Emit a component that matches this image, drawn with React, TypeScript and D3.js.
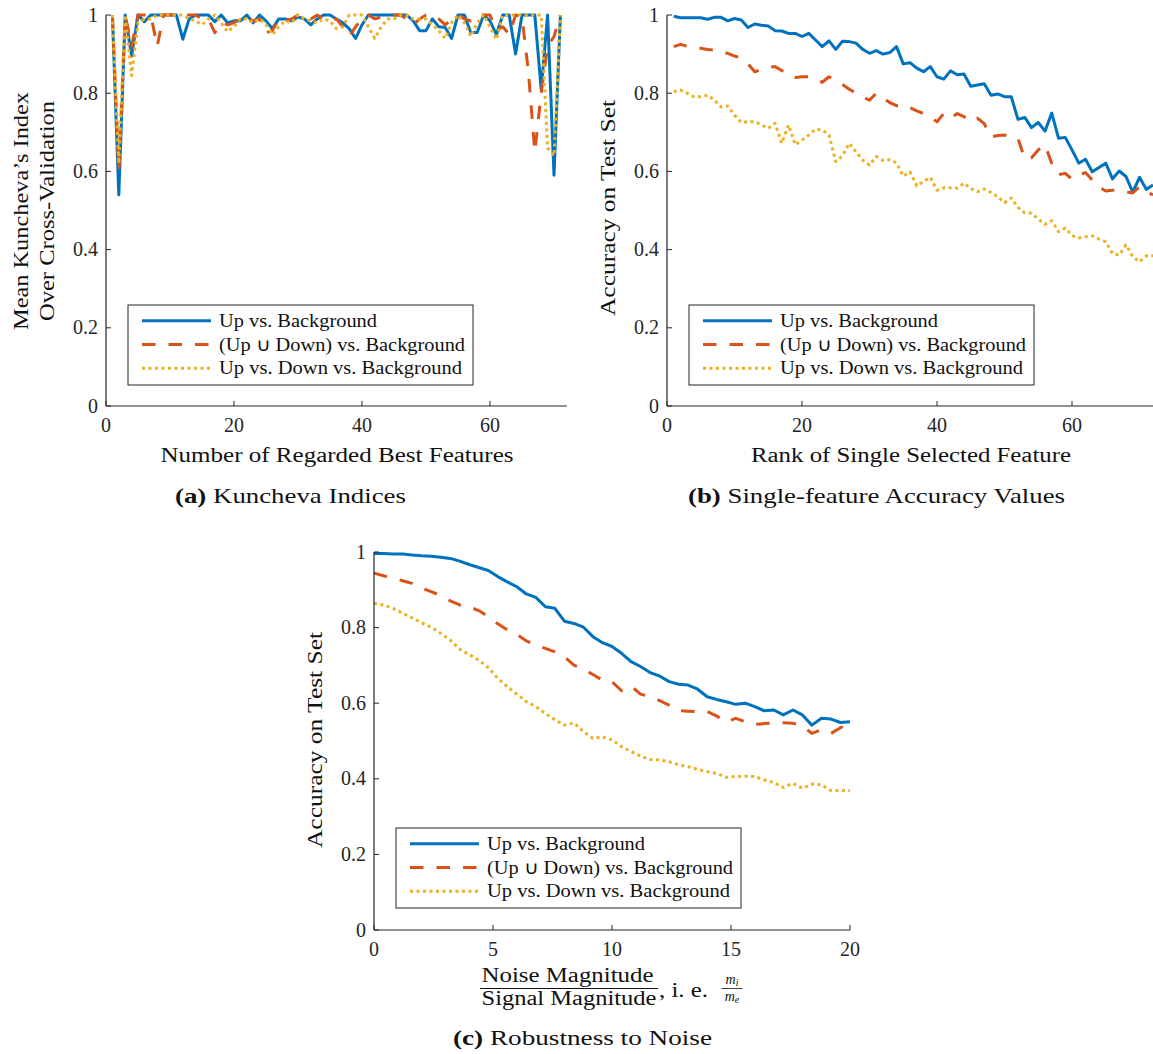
import React from "react";
import * as d3 from "d3";

const BLUE = "#0072BD";
const ORANGE = "#D95319";
const YELLOW = "#EDB120";
const AXIS = "#262626";
const FONT = "'Liberation Serif', 'Times New Roman', serif";

const legendLabels = [
  "Up vs. Background",
  "(Up \u222A Down) vs. Background",
  "Up vs. Down vs. Background",
];

// (a) mean Kuncheva index, for 1..71 regarded best features
const kunchevaUp = [
  1, 0.54, 1, 0.895, 1, 0.983, 1, 1, 1, 1,
  1, 0.938, 0.99, 1, 1, 1, 0.983, 1, 0.98, 0.985,
  0.985, 1, 0.98, 1, 0.985, 0.965, 0.99, 0.99, 0.985, 0.995,
  0.99, 0.975, 0.99, 1, 1, 0.99, 0.98, 0.965, 0.94, 0.975,
  1, 1, 1, 1, 1, 1, 1, 0.985, 0.96, 0.96,
  0.99, 0.97, 0.968, 0.94, 1, 1, 0.955, 0.955, 1, 0.985,
  0.95, 1, 1, 0.9, 1, 1, 1, 0.81, 1, 0.59,
  1,
];
const kunchevaUnion = [
  1, 0.6, 1, 0.92, 1, 1, 1, 0.92, 1, 1,
  1, 1, 1, 1, 0.99, 0.99, 0.955, 0.98, 0.975, 0.98,
  0.99, 0.99, 0.985, 0.99, 0.955, 0.96, 0.99, 0.985, 0.99, 1,
  0.995, 0.99, 1, 0.99, 0.985, 0.99, 0.97, 0.945, 0.97, 0.99,
  1, 0.99, 0.995, 1, 1, 1, 0.99, 0.975, 0.99, 1,
  1, 0.99, 0.975, 0.99, 1, 0.99, 0.985, 1, 1, 1,
  0.96, 0.97, 0.95, 1, 0.995, 0.855, 0.65, 0.8, 0.92, 0.945,
  1,
];
const kunchevaThree = [
  1, 0.62, 1, 0.845, 0.98, 0.99, 0.99, 1, 1, 1,
  1, 1, 0.99, 0.985, 0.975, 0.99, 1, 0.98, 0.957, 0.97,
  0.99, 0.99, 0.98, 0.99, 0.975, 0.95, 0.97, 0.985, 0.98, 1,
  0.99, 0.985, 0.98, 0.99, 0.985, 0.965, 0.97, 1, 1, 1,
  0.97, 0.94, 0.97, 0.99, 0.99, 1, 1, 0.99, 0.99, 0.99,
  0.975, 0.96, 0.94, 0.98, 1, 0.98, 0.945, 0.98, 1, 0.97,
  0.937, 1, 1, 1, 1, 1, 1, 1, 0.66, 0.64,
  1,
];

// (b) single-feature accuracy, rank 1..72
const rankUp = [
  0.997, 0.993, 0.993, 0.993, 0.993, 0.989, 0.994, 0.994, 0.985, 0.991,
  0.987, 0.968, 0.977, 0.974, 0.972, 0.96, 0.959, 0.953, 0.953, 0.945,
  0.953, 0.936, 0.919, 0.934, 0.912, 0.933, 0.932, 0.928, 0.912, 0.902,
  0.909, 0.9, 0.904, 0.919, 0.875, 0.878, 0.864, 0.855, 0.868, 0.842,
  0.836, 0.857, 0.847, 0.849, 0.818, 0.821, 0.824, 0.795, 0.798, 0.791,
  0.791, 0.733, 0.738, 0.712, 0.725, 0.703, 0.749, 0.685, 0.687, 0.655,
  0.621, 0.631, 0.599, 0.61, 0.621, 0.581, 0.601, 0.587, 0.547, 0.585,
  0.554, 0.565,
];
const rankUnion = [
  0.919, 0.925, 0.92, 0.917, 0.915, 0.912, 0.91, 0.905, 0.902, 0.895,
  0.89, 0.875, 0.855, 0.86, 0.866, 0.868, 0.858, 0.845, 0.84, 0.842,
  0.842, 0.835, 0.828, 0.842, 0.832, 0.822, 0.81, 0.8, 0.79, 0.782,
  0.8, 0.788, 0.776, 0.768, 0.77, 0.763, 0.755, 0.748, 0.738, 0.727,
  0.748, 0.736, 0.748, 0.74, 0.728, 0.736, 0.722, 0.688, 0.692, 0.693,
  0.69, 0.684, 0.632, 0.635, 0.655, 0.668, 0.62, 0.592, 0.595, 0.58,
  0.59, 0.597, 0.578, 0.56, 0.55, 0.552, 0.55, 0.548, 0.545, 0.56,
  0.548, 0.54,
];
const rankThree = [
  0.804, 0.808, 0.8, 0.791, 0.791, 0.795, 0.783, 0.765, 0.767, 0.744,
  0.725, 0.727, 0.727, 0.719, 0.71, 0.723, 0.672, 0.719, 0.668, 0.68,
  0.693, 0.708, 0.706, 0.693, 0.625, 0.64, 0.672, 0.65, 0.629, 0.616,
  0.638, 0.628, 0.63, 0.622, 0.588, 0.599, 0.563, 0.574, 0.585, 0.552,
  0.558, 0.558, 0.557, 0.57, 0.556, 0.548, 0.555, 0.546, 0.535, 0.52,
  0.532, 0.508, 0.494, 0.493, 0.478, 0.465, 0.474, 0.446, 0.455, 0.436,
  0.43, 0.433, 0.435, 0.427, 0.42, 0.39, 0.386, 0.412, 0.382, 0.369,
  0.384, 0.384,
];

// (c) accuracy vs. noise ratio, 0..20 in steps of 0.4
const noiseStep = 0.4;
const noiseUp = [
  0.996, 0.996, 0.995, 0.995, 0.992, 0.99, 0.989, 0.986, 0.983, 0.976,
  0.967, 0.959, 0.951, 0.935, 0.921, 0.908, 0.889, 0.88, 0.855, 0.851,
  0.817, 0.811, 0.801, 0.776, 0.76, 0.75, 0.732, 0.71, 0.697, 0.681,
  0.672, 0.657, 0.65, 0.648, 0.637, 0.617, 0.61, 0.604, 0.597, 0.6,
  0.591, 0.58, 0.582, 0.569, 0.582, 0.569, 0.542, 0.56, 0.558, 0.549,
  0.551,
];
const noiseUnion = [
  0.944, 0.937, 0.931, 0.924, 0.917, 0.905, 0.895, 0.885, 0.871, 0.86,
  0.855, 0.845, 0.829, 0.81, 0.794, 0.782, 0.765, 0.754, 0.745, 0.736,
  0.723, 0.701, 0.69, 0.676, 0.661, 0.657, 0.633, 0.645, 0.624, 0.617,
  0.607, 0.595, 0.58, 0.579, 0.578, 0.578, 0.566, 0.55, 0.56, 0.551,
  0.544, 0.546, 0.548, 0.548, 0.547, 0.54, 0.52, 0.53, 0.52, 0.535,
  0.55,
];
const noiseThree = [
  0.864, 0.86, 0.851, 0.838, 0.826, 0.813, 0.801, 0.785, 0.767, 0.743,
  0.729, 0.714, 0.694, 0.666, 0.644, 0.624, 0.604, 0.591, 0.573, 0.556,
  0.542, 0.548, 0.525, 0.507, 0.511, 0.503, 0.485, 0.472, 0.46, 0.451,
  0.45, 0.445, 0.437, 0.432, 0.425, 0.419, 0.414, 0.404, 0.406, 0.407,
  0.406, 0.397, 0.39, 0.377, 0.388, 0.375, 0.386, 0.384, 0.369, 0.369,
  0.369,
];

const featureTicks = [0, 20, 40, 60];
const noiseTicks = [0, 5, 10, 15, 20];
const accTicks = [0, 0.2, 0.4, 0.6, 0.8, 1];

const styles = [
  { color: BLUE, dash: undefined as string | undefined },
  { color: ORANGE, dash: "13.5,13" },
  { color: YELLOW, dash: "3,3.5" },
];

function Panel(props: any) {
  const { px, py, xDomain, xTicks, xs, series, lx, ly } = props;
  const x = d3.scaleLinear().domain(xDomain).range(px);
  const y = d3.scaleLinear().domain([0, 1]).range(py);
  const line = d3.line<number>().x((_, i) => x(xs[i])).y((d) => y(d));
  const x0 = px[0], yb = py[0];
  return (
    <g>
      {series.map((vals: number[], k: number) => (
        <path key={k} d={line(vals) || ""} fill="none" stroke={styles[k].color}
          strokeWidth={3} strokeDasharray={styles[k].dash} strokeLinejoin="round" />
      ))}
      <line x1={x0} x2={x0} y1={yb} y2={py[1]} stroke={AXIS} strokeWidth={1.2} />
      <line x1={x0} x2={px[1]} y1={yb} y2={yb} stroke={AXIS} strokeWidth={1.2} />
      {accTicks.map((t) => (
        <g key={"y" + t}>
          <line x1={x0} x2={x0 + 5} y1={y(t)} y2={y(t)} stroke={AXIS} />
          <text x={x0 - 8} y={y(t) + 6.5} textAnchor="end" fontSize={20} fill={AXIS}>{String(t)}</text>
        </g>
      ))}
      {xTicks.map((t: number) => (
        <g key={"x" + t}>
          <line x1={x(t)} x2={x(t)} y1={yb} y2={yb - 5} stroke={AXIS} />
          <text x={x(t)} y={yb + 26} textAnchor="middle" fontSize={20} fill={AXIS}>{String(t)}</text>
        </g>
      ))}
      <rect x={lx} y={ly} width={345} height={80} fill="#fff" stroke={AXIS} strokeWidth={1} />
      {legendLabels.map((lab, k) => {
        const yy = ly + 15.7 + k * 23.8;
        const widths = [158, 246, 243];
        return (
          <g key={lab}>
            <line x1={lx + 14} x2={lx + 83} y1={yy} y2={yy} stroke={styles[k].color}
              strokeWidth={3} strokeDasharray={styles[k].dash} />
            <text x={lx + 91} y={yy + 6} fontSize={18} fill="#111" textLength={widths[k]}
              lengthAdjust="spacingAndGlyphs">{lab}</text>
          </g>
        );
      })}
    </g>
  );
}

export default function App() {
  const featX = kunchevaUp.map((_, i) => i + 1);
  const rankX = rankUp.map((_, i) => i + 1);
  const noiseX = noiseUp.map((_, i) => i * noiseStep);
  const txt = { fill: "#111", fontSize: 20.5 };
  return (
    <svg width={1153} height={1054} style={{ position: "absolute", left: 0, top: 0, background: "#fff" }}
      fontFamily={FONT}>
      <Panel px={[106, 566.8]} py={[406, 15]} xDomain={[0, 72]} xTicks={featureTicks} xs={featX}
        series={[kunchevaUp, kunchevaUnion, kunchevaThree]} lx={128} ly={305} />
      <Panel px={[667, 1153]} py={[406, 15]} xDomain={[0, 72]} xTicks={featureTicks} xs={rankX}
        series={[rankUp, rankUnion, rankThree]} lx={689} ly={305} />
      <Panel px={[374, 850]} py={[930, 552]} xDomain={[0, 20]} xTicks={noiseTicks} xs={noiseX}
        series={[noiseUp, noiseUnion, noiseThree]} lx={396} ly={828} />

      {/* axis labels */}
      <text transform="translate(28,211) rotate(-90)" textAnchor="middle" {...txt} textLength={238}
        lengthAdjust="spacingAndGlyphs">Mean Kuncheva’s Index</text>
      <text transform="translate(54,211) rotate(-90)" textAnchor="middle" {...txt} textLength={220}
        lengthAdjust="spacingAndGlyphs">Over Cross-Validation</text>
      <text x={337} y={462} textAnchor="middle" {...txt} textLength={353}
        lengthAdjust="spacingAndGlyphs">Number of Regarded Best Features</text>
      <text transform="translate(615,208) rotate(-90)" textAnchor="middle" {...txt} textLength={216}
        lengthAdjust="spacingAndGlyphs">Accuracy on Test Set</text>
      <text x={911} y={462} textAnchor="middle" {...txt} textLength={320}
        lengthAdjust="spacingAndGlyphs">Rank of Single Selected Feature</text>
      <text transform="translate(322,740) rotate(-90)" textAnchor="middle" {...txt} textLength={216}
        lengthAdjust="spacingAndGlyphs">Accuracy on Test Set</text>

      {/* fraction label of (c) */}
      <text x={567.5} y={982} textAnchor="middle" {...txt} textLength={172}
        lengthAdjust="spacingAndGlyphs">Noise Magnitude</text>
      <line x1={480} x2={658} y1={988.5} y2={988.5} stroke="#111" strokeWidth={1} />
      <text x={569} y={1005} textAnchor="middle" {...txt} textLength={175}
        lengthAdjust="spacingAndGlyphs">Signal Magnitude</text>
      <text x={659} y={997} {...txt} textLength={49} lengthAdjust="spacingAndGlyphs">, i. e.</text>
      <line x1={721.5} x2={742.5} y1={988.5} y2={988.5} stroke="#111" strokeWidth={0.8} />
      <text x={732} y={984} textAnchor="middle" fill="#111" fontSize={14} fontStyle="italic">
        m<tspan fontSize={10} dy={2}>i</tspan>
      </text>
      <text x={732} y={1001} textAnchor="middle" fill="#111" fontSize={14} fontStyle="italic">
        m<tspan fontSize={10} dy={2}>e</tspan>
      </text>

      {/* captions */}
      <text x={175} y={503} fontSize={21} fill="#111" textLength={231} lengthAdjust="spacingAndGlyphs">
        <tspan fontWeight="bold">(a)</tspan> Kuncheva Indices
      </text>
      <text x={688} y={503} fontSize={21} fill="#111" textLength={377} lengthAdjust="spacingAndGlyphs">
        <tspan fontWeight="bold">(b)</tspan> Single-feature Accuracy Values
      </text>
      <text x={453} y={1045} fontSize={21} fill="#111" textLength={259} lengthAdjust="spacingAndGlyphs">
        <tspan fontWeight="bold">(c)</tspan> Robustness to Noise
      </text>
    </svg>
  );
}
